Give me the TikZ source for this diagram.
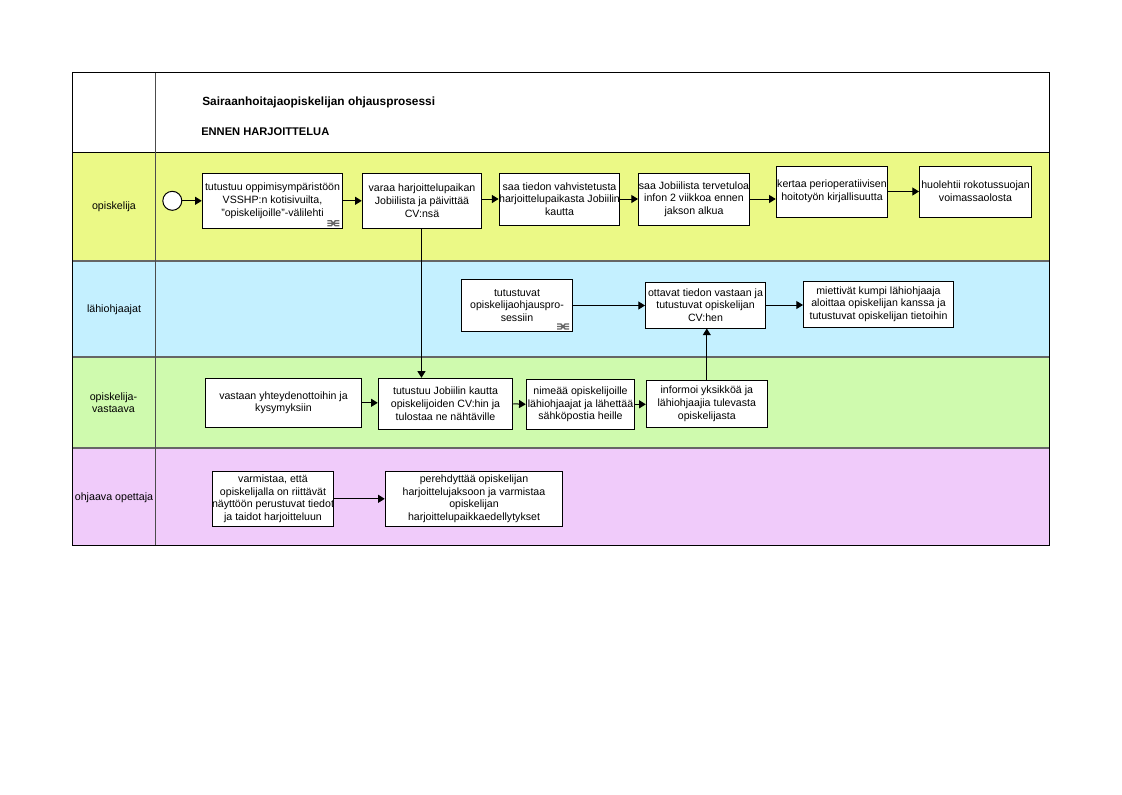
\documentclass[tikz,border=0pt]{standalone}
\usepackage{fontspec}
\setmainfont{Liberation Sans}
\usetikzlibrary{arrows.meta,calc}
\definecolor{laneY}{HTML}{EBF986}
\definecolor{laneB}{HTML}{C4F0FF}
\definecolor{laneG}{HTML}{CFFAAE}
\definecolor{laneP}{HTML}{F0CBFA}
\definecolor{sep}{HTML}{666666}
\tikzset{
  x=0.75pt,y=-0.75pt,
  box/.style 2 args={draw=black,line width=0.75pt,fill=white,inner sep=0pt,align=center,
     font=\fontsize{7.95pt}{9.45pt}\selectfont,minimum width=#1*0.75pt,minimum height=#2*0.75pt,
     execute at begin node={\rule{0pt}{10pt}}},
  lbl/.style={inner sep=0pt,align=center,font=\fontsize{8pt}{8.8pt}\selectfont},
  ttla/.style={inner sep=0pt,anchor=west,font=\fontsize{8.9pt}{10pt}\selectfont\bfseries},
  ttlb/.style={inner sep=0pt,anchor=west,font=\fontsize{8.35pt}{10pt}\selectfont\bfseries},
  conn/.style={draw=black,line width=0.75pt,-{Triangle[length=5pt,width=6pt]}},
  sepline/.style={draw=sep,line width=1.5pt},
  icon/.style={draw=black!60,line width=1pt}
}
\newcommand{\linkicon}[1]{%
  \draw[icon] ($(#1.south east)+(-16,-8)$) -- ++(4,0) -- ++(4,5) -- ++(4,0)
              ($(#1.south east)+(-16,-3)$) -- ++(4,0) -- ++(4,-5) -- ++(4,0)
              ($(#1.south east)+(-16,-5.5)$) -- ++(12,0);}
\begin{document}
\begin{tikzpicture}
\useasboundingbox (0,0) rectangle (1122,794);
% lanes
\fill[laneY] (72.5,152.5) rectangle (1049.5,261);
\fill[laneB] (72.5,261) rectangle (1049.5,357);
\fill[laneG] (72.5,357) rectangle (1049.5,448);
\fill[laneP] (72.5,448) rectangle (1049.5,545.5);
\draw[sepline] (72.5,261) -- (1049.5,261);
\draw[sepline] (72.5,357) -- (1049.5,357);
\draw[sepline] (72.5,448) -- (1049.5,448);
\draw[black,line width=0.75pt] (72.5,152.5) -- (1049.5,152.5);
\draw[draw=black!70,line width=1.2pt] (155.5,72.5) -- (155.5,545.5);
\draw[black,line width=0.75pt] (72.5,72.5) rectangle (1049.5,545.5);
% titles
\node[ttla] (t1) at (202,102) {Sairaanhoitajaopiskelijan ohjausprosessi};
\node[ttlb] (t2) at (201,132) {ENNEN HARJOITTELUA};
% lane labels
\node[lbl] (l1) at (114,207) {opiskelija};
\node[lbl] (l2) at (114,309.5) {lähiohjaajat};
\node[lbl] (l3) at (113.5,403) {opiskelija-\\vastaava};
\node[lbl] (l4) at (114,497.5) {ohjaava opettaja};
% start
\node[circle,draw=black,line width=0.75pt,fill=white,minimum size=19*0.75pt,inner sep=0pt] (s) at (172.3,200.8) {};
% boxes
\node[box={140.5}{55}] (b1) at (272.5,200.8) {tutustuu oppimisympäristöön\\VSSHP:n kotisivuilta,\\"opiskelijoille"-välilehti};
\node[box={119.5}{55}] (b2) at (422,200.8) {varaa harjoittelupaikan\\Jobiilista ja päivittää\\CV:nsä};
\node[box={120}{52}] (b3) at (559.5,199) {saa tiedon vahvistetusta\\harjoittelupaikasta Jobiilin\\kautta};
\node[box={111}{52}] (b4) at (694,199) {saa Jobiilista tervetuloa\\infon 2 viikkoa ennen\\jakson alkua};
\node[box={111.5}{51}] (b5) at (832,191.5) {kertaa perioperatiivisen\\hoitotyön kirjallisuutta};
\node[box={112}{51}] (b6) at (975.5,191.5) {huolehtii rokotussuojan\\voimassaolosta};
\node[box={111}{52}] (b7) at (517,305.5) {tutustuvat\\opiskelijaohjauspro-\\sessiin};
\node[box={120}{46}] (b8) at (705.5,305) {ottavat tiedon vastaan ja\\tutustuvat opiskelijan\\CV:hen};
\node[box={150}{46}] (b9) at (878.5,304) {miettivät kumpi lähiohjaaja\\aloittaa opiskelijan kanssa ja\\tutustuvat opiskelijan tietoihin};
\node[box={156.5}{49}] (b10) at (283.5,402.8) {vastaan yhteydenottoihin ja\\kysymyksiin};
\node[box={134.5}{51}] (b11) at (445.5,403.8) {tutustuu Jobiilin kautta\\opiskelijoiden CV:hin ja\\tulostaa ne nähtäville};
\node[box={108.5}{50}] (b12) at (580.5,404.3) {nimeää opiskelijoille\\lähiohjaajat ja lähettää\\sähköpostia heille};
\node[box={121}{47}] (b13) at (706.8,403.8) {informoi yksikköä ja\\lähiohjaajia tulevasta\\opiskelijasta};
\node[box={121.5}{55}] (b14) at (273,498.8) {varmistaa, että\\opiskelijalla on riittävät\\näyttöön perustuvat tiedot\\ja taidot harjoitteluun};
\node[box={177.5}{55}] (b15) at (474,498.8) {perehdyttää opiskelijan\\harjoittelujaksoon ja varmistaa\\opiskelijan\\harjoittelupaikkaedellytykset};
% link icons
\linkicon{b1}
\linkicon{b7}
% connectors
\draw[conn] (s.east) -- (b1.west);
\draw[conn] (b1.east) -- (b2.west);
\draw[conn] (b3.west -| b2.east) -- (b3.west);
\draw[conn] (b3.east) -- (b4.west);
\draw[conn] (b4.east) -- (b4.east -| b5.west);
\draw[conn] (b5.east) -- (b6.west);
\draw[conn] ([xshift=-0.4pt]b2.south) -- ([xshift=-0.4pt]b2.south |- b11.north);
\draw[conn] (b7.east) -- (b7.east -| b8.west);
\draw[conn] (b8.east) -- (b8.east -| b9.west);
\draw[conn] (b10.east) -- (b10.east -| b11.west);
\draw[conn] (b11.east) -- (b12.west);
\draw[conn] (b12.east) -- (b12.east -| b13.west);
\draw[conn] (b13.north) -- (b13.north |- b8.south);
\draw[conn] (b14.east) -- (b14.east -| b15.west);
\end{tikzpicture}
\end{document}
